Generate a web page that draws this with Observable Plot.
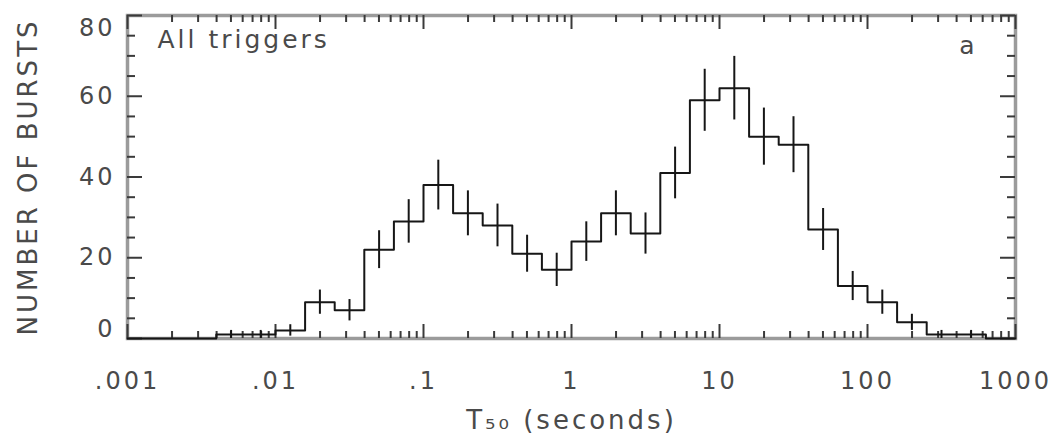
<!DOCTYPE html>
<html>
<head>
<meta charset="utf-8">
<script src="https://cdn.jsdelivr.net/npm/d3@7"></script>
<script src="https://cdn.jsdelivr.net/npm/@observablehq/plot@0.6"></script>
<style>
html, body { margin: 0; padding: 0; background: #fff; }
#chart text { letter-spacing: 3px; }
</style>
</head>
<body>
<div id="chart"></div>
<script>
// Left edges of the histogram bins, in log10(T50 seconds); each bin is 0.2 decade wide
const logEdges = [-3.0, -2.8, -2.6, -2.4, -2.2, -2.0, -1.8, -1.6, -1.4, -1.2,
                  -1.0, -0.8, -0.6, -0.4, -0.2, 0.0, 0.2, 0.4, 0.6, 0.8,
                  1.0, 1.2, 1.4, 1.6, 1.8, 2.0, 2.2, 2.4, 2.6, 2.8];
const binWidthLog = 0.2;
// Number of bursts in each bin
const counts = [0, 0, 0, 1, 1, 2, 9, 7, 22, 29,
                38, 31, 28, 21, 17, 24, 31, 26, 41, 59,
                62, 50, 48, 27, 13, 9, 4, 1, 1, 0];

const xTickValues = [0.001, 0.01, 0.1, 1, 10, 100, 1000];
const xTickLabels = [".001", ".01", ".1", "1", "10", "100", "1000"];
const xMinorMultipliers = [2, 3, 4, 5, 6, 7, 8, 9];
const yTickValues = [0, 20, 40, 60, 80];
const yTickLabels = ["0", "20", "40", "60", "80"];
const yMinorValues = [5, 10, 15, 25, 30, 35, 45, 50, 55, 65, 70, 75];

const panelLabel = "All triggers";
const panelLetter = "a";
const xTitle = "T\u2085\u2080 (seconds)";
const yTitle = "NUMBER OF BURSTS";

const bins = logEdges.map((e, i) => ({
  lo: 10 ** e,
  hi: 10 ** (e + binWidthLog),
  mid: 10 ** (e + binWidthLog / 2),
  n: counts[i]
}));
const steps = bins.map(b => ({x: b.lo, y: b.n}))
  .concat([{x: bins[bins.length - 1].hi, y: bins[bins.length - 1].n}]);
const xMinor = xTickValues.slice(0, -1).flatMap(v => xMinorMultipliers.map(m => v * m));

const W = 1057, H = 440, ML = 127, MR = 42, MT = 15, MB = 102;
const FW = W - ML - MR, FH = H - MT - MB;

const font = "DejaVu Sans";
const txt = "#4a4a4a";
const tickColor = "#3a3a3a";
const lineColor = "#161616";
const tk = {stroke: tickColor, strokeWidth: 2};

const chart = Plot.plot({
  width: W,
  height: H,
  marginLeft: ML,
  marginRight: MR,
  marginTop: MT,
  marginBottom: MB,
  x: {type: "log", domain: [0.001, 1000], axis: null},
  y: {domain: [0, 80], axis: null},
  style: {fontFamily: font, background: "#fff"},
  marks: [
    Plot.frame({stroke: "#9b9b9b", strokeWidth: 3.5}),
    // axis ticks (pointing inward)
    Plot.tickX(xTickValues, {x: d => d, insetTop: FH - 14, ...tk}),
    Plot.tickX(xMinor, {x: d => d, insetTop: FH - 7, ...tk}),
    Plot.tickX(xTickValues, {x: d => d, insetBottom: FH - 14, ...tk}),
    Plot.tickX(xMinor, {x: d => d, insetBottom: FH - 7, ...tk}),
    Plot.tickY(yTickValues, {y: d => d, insetRight: FW - 15, ...tk}),
    Plot.tickY(yMinorValues, {y: d => d, insetRight: FW - 8, ...tk}),
    Plot.tickY(yTickValues, {y: d => d, insetLeft: FW - 15, ...tk}),
    Plot.tickY(yMinorValues, {y: d => d, insetLeft: FW - 8, ...tk}),
    // histogram
    Plot.line(steps, {x: "x", y: "y", curve: "step-after", stroke: lineColor, strokeWidth: 2}),
    Plot.ruleX(bins.filter(b => b.n > 0), {
      x: "mid", y1: b => b.n - Math.sqrt(b.n), y2: b => b.n + Math.sqrt(b.n),
      stroke: lineColor, strokeWidth: 2
    }),
    // tick labels
    Plot.text(xTickValues, {x: d => d, text: (d, i) => xTickLabels[i], frameAnchor: "bottom",
      lineAnchor: "bottom", dy: 50, fontSize: 24, fill: txt, textAnchor: "middle"}),
    Plot.text(yTickValues, {filter: d => d > 0 && d < 80, y: d => d, text: (d, i) => yTickLabels[i],
      frameAnchor: "left", textAnchor: "end", lineAnchor: "middle", dx: -12, fontSize: 24, fill: txt}),
    Plot.text(yTickValues, {filter: d => d === 0, y: d => d, text: (d, i) => yTickLabels[i],
      frameAnchor: "left", textAnchor: "end", lineAnchor: "middle", dx: -12, dy: -9, fontSize: 24, fill: txt}),
    Plot.text(yTickValues, {filter: d => d === 80, y: d => d, text: (d, i) => yTickLabels[i],
      frameAnchor: "left", textAnchor: "end", lineAnchor: "middle", dx: -12, dy: 13, fontSize: 24, fill: txt}),
    // titles
    Plot.text([panelLabel], {text: d => d, frameAnchor: "top-left", textAnchor: "start",
      lineAnchor: "top", dx: 30, dy: 15, fontSize: 25, fill: txt}),
    Plot.text([panelLetter], {text: d => d, frameAnchor: "top-right", textAnchor: "middle",
      lineAnchor: "bottom", dx: -47, dy: 38, fontSize: 25, fill: txt}),
    Plot.text([xTitle], {text: d => d, frameAnchor: "bottom", textAnchor: "middle",
      lineAnchor: "bottom", dy: 90, fontSize: 26, fill: txt}),
    Plot.text([yTitle], {text: d => d, frameAnchor: "left", textAnchor: "middle",
      lineAnchor: "bottom", rotate: -90, dx: -91, fontSize: 26, fill: txt})
  ]
});
document.getElementById("chart").appendChild(chart);
</script>
</body>
</html>
